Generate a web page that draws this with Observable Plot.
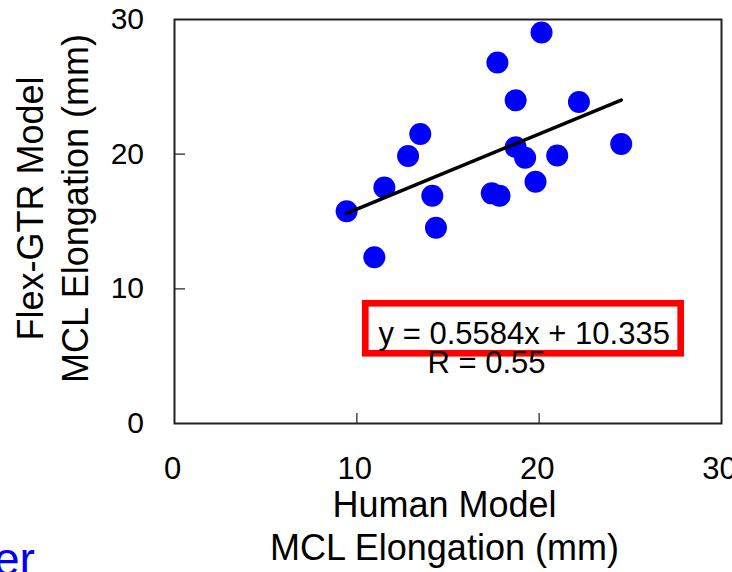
<!DOCTYPE html>
<html>
<head>
<meta charset="utf-8">
<script src="https://cdn.jsdelivr.net/npm/d3@7"></script>
<script src="https://cdn.jsdelivr.net/npm/@observablehq/plot@0.6"></script>
<style>
  html, body { margin: 0; padding: 0; background: #fff; overflow: hidden; }
  #wrap { position: relative; width: 732px; height: 572px; }
  #frag { position: absolute; left: -6px; top: 536px; font-family: "Liberation Sans", Arial, sans-serif;
          font-size: 46px; line-height: 1; color: #0000ff; white-space: nowrap; }
</style>
</head>
<body>
<div id="wrap"></div>
<script>
// Data
const humanElong = [20.13, 17.71, 18.71, 22.18, 13.48, 24.50, 18.71, 12.81, 19.23, 20.99, 11.51, 19.80, 14.14, 17.40, 17.83, 9.44, 14.34, 10.96];
const flexElong  = [29.04, 26.81, 24.00, 23.87, 21.50, 20.76, 20.52, 19.87, 19.73, 19.90, 17.53, 17.95, 16.91, 17.09, 16.91, 15.76, 14.54, 12.35];
const slope = 0.5584;
const intercept = 10.335;
const rValue = 0.55;
const xTickLabels = [0, 10, 20, 30];
const yTickLabels = [0, 10, 20, 30];
const innerTicks = [10, 20];
const xTitle = "Human Model\nMCL Elongation (mm)";
const yTitle = "Flex-GTR Model\nMCL Elongation (mm)";
const eqText = `y = ${slope}x + ${intercept}`;
const rText = `R = ${rValue}`;

// Annotation placement (data units)
const eqPos = {x: 19.18, y: 5.92};
const rPos = {x: 17.11, y: 3.78};
const boxPos = {x1: 10.49, x2: 27.79, y1: 5.18, y2: 8.89};

const points = humanElong.map((x, i) => ({x, y: flexElong[i]}));
const fit = d3.extent(humanElong).map(x => ({x, y: slope * x + intercept}));

const chart = Plot.plot({
  width: 732,
  height: 572,
  marginLeft: 174,
  marginRight: 11,
  marginTop: 19,
  marginBottom: 149,
  style: {fontFamily: "'Liberation Sans', Arial, sans-serif", color: "#000", background: "#fff"},
  x: {domain: [0, 30]},
  y: {domain: [0, 30]},
  marks: [
    Plot.axisX({ticks: innerTicks, tickSize: -10, text: null, label: null, stroke: "#555", strokeWidth: 1.6}),
    Plot.axisY({ticks: innerTicks, tickSize: -11, text: null, label: null, stroke: "#555", strokeWidth: 1.6}),
    Plot.axisX({ticks: xTickLabels, tickSize: 0, tickPadding: 33.6, dx: -2, fontSize: 31, tickFormat: d3.format("d"), label: null, fill: "#000"}),
    Plot.axisY({ticks: yTickLabels, tickSize: 0, tickPadding: 30.5, fontSize: 30, tickFormat: d3.format("d"), label: null, fill: "#000"}),
    Plot.frame({stroke: "#222", strokeWidth: 2}),
    Plot.dot(points, {x: "x", y: "y", r: 11, fill: "#0000ff", stroke: null}),
    Plot.line(fit, {x: "x", y: "y", stroke: "#000", strokeWidth: 3.5}),
    Plot.rect([boxPos], {x1: "x1", x2: "x2", y1: "y1", y2: "y2", fill: "#fff", stroke: "#ff0000", strokeWidth: 6.7}),
    Plot.text([{...eqPos, t: eqText}], {x: "x", y: "y", text: "t", fontSize: 31, lineAnchor: "bottom", textAnchor: "middle", fill: "#000"}),
    Plot.text([{...rPos, t: rText}], {x: "x", y: "y", text: "t", fontSize: 31, lineAnchor: "bottom", textAnchor: "middle", fill: "#000"}),
    Plot.text([xTitle], {frameAnchor: "bottom", text: d => d, fontSize: 36, textAnchor: "middle", lineAnchor: "top", lineHeight: 1.2, dy: 63, dx: -3.5, fill: "#000"}),
    Plot.text([yTitle], {frameAnchor: "left", text: d => d, fontSize: 36, rotate: -90, textAnchor: "middle", lineAnchor: "middle", lineHeight: 1.264, dx: -123.5, dy: -13, fill: "#000"})
  ]
});
const wrap = document.getElementById("wrap");
wrap.appendChild(chart);
const frag = document.createElement("div");
frag.id = "frag";
frag.textContent = "er";
wrap.appendChild(frag);
</script>
</body>
</html>
